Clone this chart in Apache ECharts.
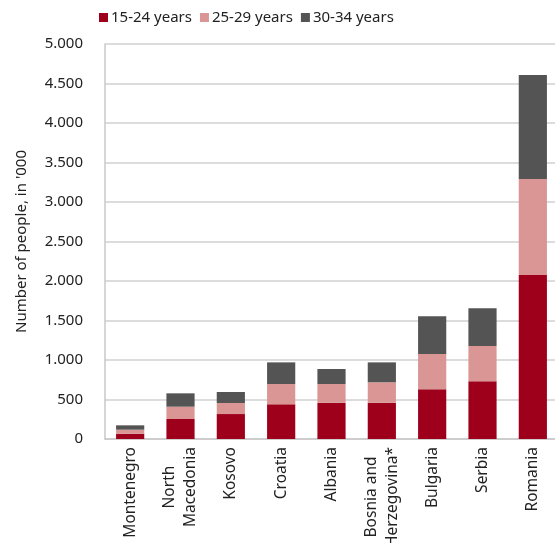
<!DOCTYPE html>
<html>
<head>
<meta charset="utf-8">
<script src="https://cdn.jsdelivr.net/npm/echarts@6/dist/echarts.min.js"></script>
<style>
  html, body { margin: 0; padding: 0; background: #fff; }
  #chart { width: 555px; height: 543px; }
</style>
</head>
<body>
<div id="chart"></div>
<script>
// Young population by country and age band, in thousands
const countries = ['Montenegro', 'North\nMacedonia', 'Kosovo', 'Croatia', 'Albania',
  'Bosnia and\nHerzegovina*', 'Bulgaria', 'Serbia', 'Romania'];
const age15to24 = [67, 253, 316, 439, 460, 460, 629, 730, 2076];
const age25to29 = [51, 156, 140, 257, 236, 258, 447, 447, 1215];
const age30to34 = [55, 169, 139, 274, 190, 252, 477, 477, 1317];
const seriesNames = ['15-24 years', '25-29 years', '30-34 years'];
const seriesColors = ['#9E001C', '#D99694', '#545454'];
const yTicks = { min: 0, max: 5000, interval: 500 };

const FONT = 'Noto Sans';
const chart = echarts.init(document.getElementById('chart'), null, { renderer: 'canvas' });

function thousands(v) {
  return String(v).replace(/\B(?=(\d{3})+(?!\d))/g, '.');
}

const values = [age15to24, age25to29, age30to34];

chart.setOption({
  animation: false,
  textStyle: { fontFamily: FONT },
  legend: {
    left: 99, top: 10, padding: 0,
    itemWidth: 9, itemHeight: 9, itemGap: 8,
    icon: 'rect',
    textStyle: { fontSize: 15, color: '#222', fontFamily: FONT, padding: [0, 0, 0, -2] },
    data: seriesNames
  },
  grid: { left: 105, right: -3, top: 44, bottom: 104, containLabel: false, outerBoundsMode: 'none' },
  xAxis: {
    type: 'category',
    data: countries,
    axisLine: { show: true, lineStyle: { color: '#C8C8C8', width: 1.5 } },
    axisTick: { show: false },
    axisLabel: {
      rotate: 90, margin: 8, fontSize: 15.5, color: '#222', fontFamily: FONT,
      lineHeight: 21, interval: 0,
      formatter: function (v) {
        return v.split('\n').map(function (s) { return '{c|' + s + '}'; }).join('\n');
      },
      rich: { c: { align: 'center', fontSize: 15.5, color: '#222', fontFamily: FONT, lineHeight: 21 } }
    }
  },
  yAxis: {
    type: 'value',
    min: yTicks.min, max: yTicks.max, interval: yTicks.interval,
    name: "Number of people, in '000",
    nameLocation: 'middle', nameGap: 76, nameRotate: 90,
    nameTextStyle: { fontSize: 15, color: '#222', fontFamily: FONT },
    axisLine: { show: true, lineStyle: { color: '#C8C8C8', width: 1.5 } },
    axisTick: { show: false },
    axisLabel: { fontSize: 15, color: '#222', margin: 22, fontFamily: FONT, formatter: thousands },
    splitLine: { lineStyle: { color: '#D0D0D0', width: 1.5 } }
  },
  series: seriesNames.map(function (name, i) {
    return {
      name: name,
      type: 'bar',
      stack: 'total',
      barWidth: '56%',
      data: values[i],
      itemStyle: { color: seriesColors[i] }
    };
  }),
  color: seriesColors
});
</script>
</body>
</html>
